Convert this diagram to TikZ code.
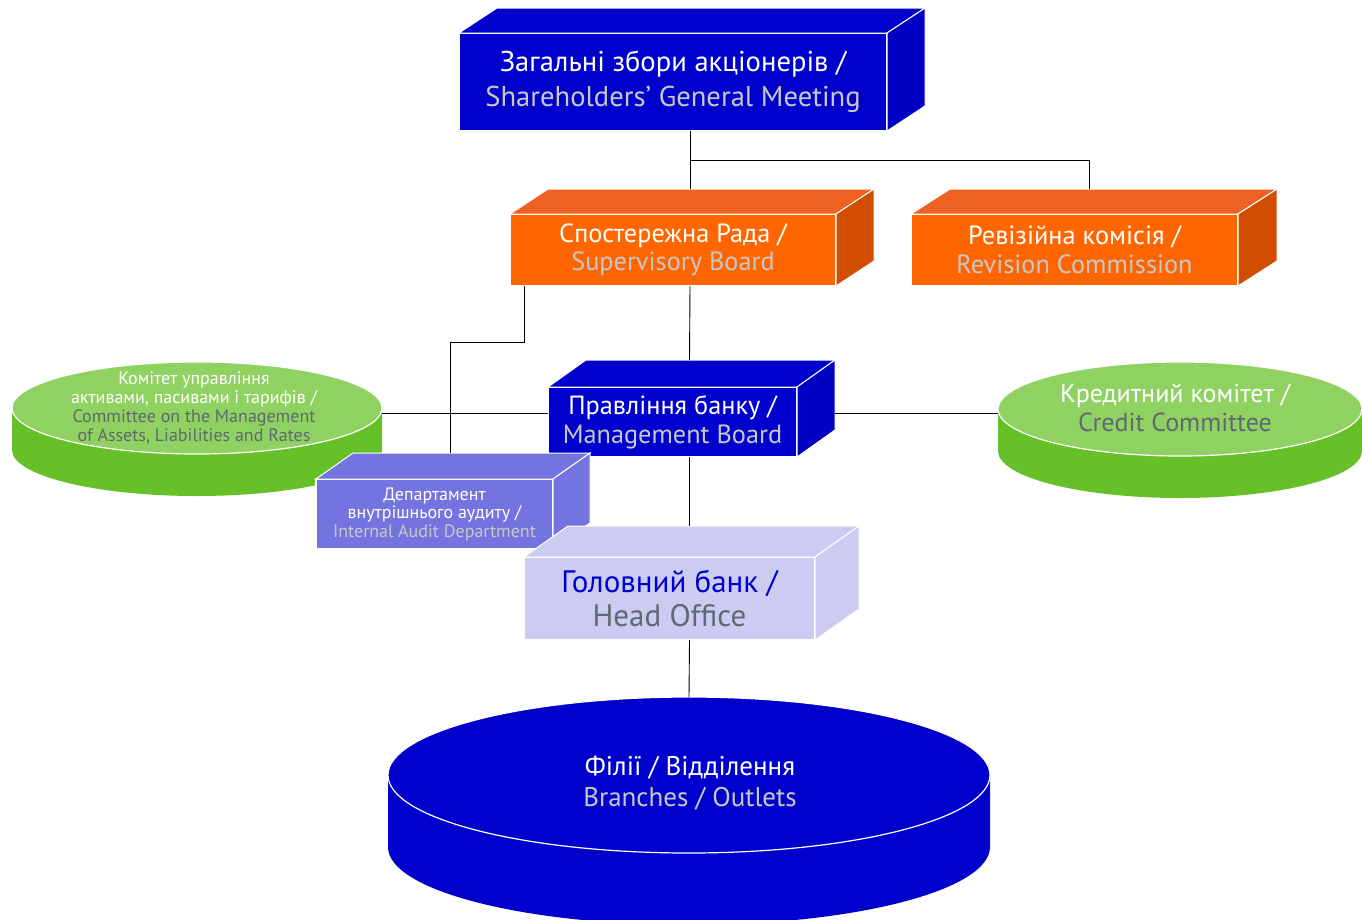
\documentclass[tikz,border=0pt]{standalone}
\usepackage{fontspec}
\setmainfont{PT Sans}
\usetikzlibrary{shapes,positioning,calc}

\definecolor{bankblue}{RGB}{0,0,204}
\definecolor{bankblueside}{RGB}{0,0,196}
\definecolor{orfront}{RGB}{255,102,0}
\definecolor{ortop}{RGB}{239,97,33}
\definecolor{orside}{RGB}{209,78,0}
\definecolor{auditblue}{RGB}{116,116,224}
\definecolor{lavender}{RGB}{204,204,242}
\definecolor{greentop}{RGB}{144,210,98}
\definecolor{greenside}{RGB}{102,192,40}
\definecolor{paletext}{RGB}{200,200,200}
\definecolor{greytext}{RGB}{95,105,112}

\newcommand{\boxsides}[4]{%
  \filldraw[draw=white, line width=1pt, fill=#3] (#1.north west) -- ++(#2) -- ($(#1.north east)+(#2)$) -- (#1.north east) -- cycle;
  \filldraw[draw=white, line width=1pt, fill=#4] (#1.north east) -- ++(#2) -- ($(#1.south east)+(#2)$) -- (#1.south east) -- cycle;
}

\tikzset{
  box/.style={rectangle, draw=white, line width=1.2pt, outer sep=0pt, inner sep=0pt, align=center, text=white},
  disc/.style={ellipse, draw=white, line width=1.2pt, inner sep=0pt, outer sep=0pt},
  link/.style={draw=black, line width=0.9pt},
}

\begin{document}
\begin{tikzpicture}[x=1pt, y=-1pt]
\useasboundingbox (0,0) rectangle (1362,919);

% committees (cylinders)
\fill[greenside] (12,408) -- ++(0,42) arc[start angle=180, end angle=0, x radius=185, y radius=46] -- (382,408) -- cycle;
\node[disc, fill=greentop, minimum width=370, minimum height=92] (alco) at (197,408) {};
\node[align=center, text=white, font={\fontsize{18}{18.7}\selectfont}] (alcotxt) at (194,408)
  {Комітет управління\\активами, пасивами і тарифів /\\\color{greytext}Committee on the Management\\\color{greytext}of Assets, Liabilities and Rates};

\fill[greenside] (998,409) -- ++(0,42) arc[start angle=180, end angle=0, x radius=182, y radius=47] -- (1362,409) -- cycle;
\node[disc, fill=greentop, minimum width=364, minimum height=94] (cc) at (1180,409) {};
\node[align=center, text=white, font={\fontsize{26}{29}\selectfont}] (cctxt) at (1175,408)
  {Кредитний комітет /\\\color{greytext}Credit Committee};

% boxes
\node[box, fill=bankblue, minimum width=428, minimum height=98, font={\fontsize{28.6}{35}\selectfont}] (sgm) at (673,82)
  {Загальні збори акціонерів /\\\color{paletext}Shareholders’ General Meeting};
\boxsides{sgm}{38,-25}{bankblue}{bankblueside}

\node[box, fill=orfront, minimum width=326, minimum height=72, font={\fontsize{26.3}{28.5}\selectfont}] (sb) at (673,250)
  {Спостережна Рада /\\\color{paletext}Supervisory Board};
\boxsides{sb}{38,-25}{ortop}{orside}

\node[box, fill=orfront, minimum width=327, minimum height=72, font={\fontsize{26.3}{28.5}\selectfont}] (rc) at (1074.5,250)
  {Ревізійна комісія /\\\color{paletext}Revision Commission};
\boxsides{rc}{39,-25}{ortop}{orside}

\node[box, fill=bankblue, minimum width=249, minimum height=70, font={\fontsize{26.3}{28.5}\selectfont}] (mb) at (672.5,422)
  {Правління банку /\\\color{paletext}Management Board};
\boxsides{mb}{38,-27}{bankblue}{bankblueside}

\node[box, fill=auditblue, minimum width=237, minimum height=70, font={\fontsize{18}{18.5}\selectfont}] (ia) at (434.5,514)
  {Департамент\\внутрішнього аудиту /\\\color{paletext}Internal Audit Department};
\boxsides{ia}{37,-26}{auditblue}{auditblue}

\node[box, fill=lavender, minimum width=291, minimum height=83, font={\fontsize{31}{34}\selectfont}, text=bankblue] (ho) at (669.5,598.5)
  {Головний банк /\\\color{greytext}Head Office};
\boxsides{ho}{44,-31}{lavender}{lavender}

% branches
\fill[bankblue] (388,775) -- ++(0,72) arc[start angle=180, end angle=0, x radius=301, y radius=78] -- (990,775) -- cycle;
\node[disc, fill=bankblue, minimum width=602, minimum height=156] (br) at (689,775) {};
\node[align=center, text=white, font={\fontsize{27}{31}\selectfont}] (brtxt) at (690,783)
  {Філії / Відділення\\\color{paletext}Branches / Outlets};

% connectors
\coordinate (fork) at ($(sgm.south)+(17,29)$);
\draw[link] ([xshift=17]sgm.south) -- ([xshift=17,yshift=25]sb.north);
\draw[link] (fork) -| ([xshift=15,yshift=25]rc.north);
\draw[link] ([xshift=17]sb.south) -- ([xshift=17,yshift=27]mb.north);
\draw[link] ([xshift=14]sb.south west) -- ++(0,56) -| ([xshift=16,yshift=26]ia.north);
\draw[link] ([yshift=9]mb.west) -- ([yshift=9]mb.west -| alco.east);
\draw[link] ([xshift=38,yshift=9]mb.east) -- ([yshift=9]mb.east -| cc.west);
\draw[link] ([xshift=17]mb.south) -- ([xshift=20,yshift=31]ho.north);
\draw[link] ([xshift=20]ho.south) -- (br.north);
\end{tikzpicture}
\end{document}
